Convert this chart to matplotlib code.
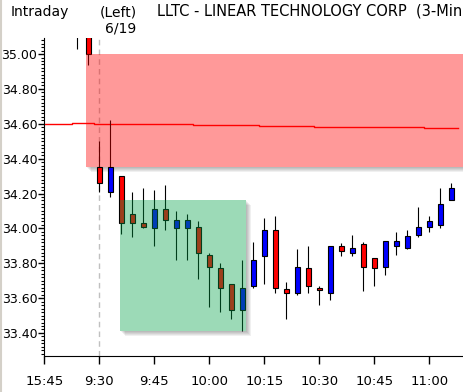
import numpy as np
import matplotlib
matplotlib.use("Agg")
import matplotlib.pyplot as plt
from matplotlib.patches import Rectangle
from matplotlib.lines import Line2D
import matplotlib.transforms as mtransforms

# bar index 0 = 9:30 of 6/19, negative = previous session
bar_idx = list(range(-2, 33))
opens = [35.16, 35.14, 34.35, 34.21, 34.30, 34.08, 34.03, 34.00, 34.11, 34.00, 34.00,
         34.01, 33.85, 33.77, 33.68, 33.53, 33.67, 33.84, 33.99, 33.65, 33.63, 33.77,
         33.66, 33.63, 33.90, 33.86, 33.91, 33.83, 33.78, 33.90, 33.89, 33.96, 34.01,
         34.02, 34.165]
highs = [35.20, 35.18, 34.50, 34.62, 34.30, 34.21, 34.23, 34.22, 34.25, 34.10, 34.08,
         34.04, 33.86, 33.80, 33.68, 33.82, 33.92, 34.06, 34.07, 33.69, 33.88, 33.90,
         33.67, 33.90, 33.915, 33.96, 33.92, 33.83, 33.93, 33.98, 33.99, 34.12, 34.07,
         34.23, 34.26]
lows = [35.03, 34.94, 34.21, 34.18, 33.97, 33.95, 34.00, 33.90, 33.99, 33.82, 33.82,
        33.71, 33.55, 33.52, 33.48, 33.41, 33.66, 33.68, 33.63, 33.48, 33.62, 33.63,
        33.56, 33.59, 33.84, 33.84, 33.64, 33.67, 33.73, 33.85, 33.88, 33.95, 33.98,
        34.00, 34.16]
closes = [35.14, 35.00, 34.26, 34.35, 34.03, 34.03, 34.01, 34.11, 34.05, 34.05, 34.05,
          33.86, 33.78, 33.66, 33.53, 33.66, 33.82, 33.99, 33.66, 33.63, 33.78, 33.67,
          33.645, 33.90, 33.87, 33.885, 33.78, 33.77, 33.93, 33.93, 33.955, 34.01, 34.04,
          34.14, 34.23]

# moving average line (step per bar), from 15:45 bar
ma_idx = list(range(-5, 33))
ma_vals = [34.597] * 3 + [34.603] * 2 + [34.597] * 9 + [34.591] * 6 + \
          [34.585] * 5 + [34.580] * 10 + [34.574] * 3

tick_idx = [-5, 0, 5, 10, 15, 20, 25, 30]
tick_lab = ["15:45", "9:30", "9:45", "10:00", "10:15", "10:30", "10:45", "11:00"]

# zones: (x0, x1, low, high)
red_zone = (-1.21, 34.0, 34.354, 35.00)
green_zone = (1.88, 13.31, 33.413, 34.163)

plt.rcParams["font.family"] = ["DejaVu Sans"]

fig = plt.figure(figsize=(4.64, 3.92), dpi=100)
ax = fig.add_axes([44.3 / 464, 36 / 392, (464 - 44.3) / 464, 318 / 392])
ax.set_xlim(-5, 33.15)
ax.set_ylim(33.268, 35.092)


def zone(x0, x1, y0, y1, color, alpha):
    # soft shadow down-right
    for k in range(1, 6):
        tr = mtransforms.offset_copy(ax.transData, fig=fig, x=k, y=-k, units="dots")
        ax.add_patch(Rectangle((x0, y0), x1 - x0, y1 - y0, transform=tr,
                               facecolor="black", edgecolor="none", alpha=0.06, zorder=1))
    ax.add_patch(Rectangle((x0, y0), x1 - x0, y1 - y0, facecolor="white",
                           edgecolor="none", zorder=1.5))
    ax.add_patch(Rectangle((x0, y0), x1 - x0, y1 - y0, facecolor=color,
                           edgecolor="none", alpha=alpha, zorder=5))


zone(red_zone[0], red_zone[1], red_zone[2], red_zone[3], "#ff0000", 0.4)
zone(green_zone[0], green_zone[1], green_zone[2], green_zone[3], "#00a046", 0.39)

# day separator
ax.axvline(0, color="#c0c0c0", linestyle=(0, (4, 3)), linewidth=1, zorder=2)

# moving average
mx = np.array(ma_idx, dtype=float)
mx[-1] += 0.6
ax.step(mx, ma_vals, where="mid", color="red", linewidth=1, zorder=2.5)

# candles
o = np.array(opens)
c = np.array(closes)
cols = np.where(c >= o, "#0000ff", "#ff0000")
ax.vlines(bar_idx, lows, highs, color="black", linewidth=0.8, zorder=3)
ax.bar(bar_idx, np.abs(c - o), bottom=np.minimum(o, c), width=0.42, color=cols,
       edgecolor="black", linewidth=0.8, zorder=3.5)

# axes styling
for s in ["top", "right"]:
    ax.spines[s].set_visible(False)
ax.set_yticks(np.arange(33.4, 35.01, 0.2))
ax.set_yticks(np.arange(33.28, 35.09, 0.02), minor=True)
ax.yaxis.set_major_formatter(matplotlib.ticker.FormatStrFormatter("%.2f"))
ax.tick_params(axis="y", which="major", length=4, width=1, pad=1, labelsize=9)
ax.tick_params(axis="y", which="minor", length=2, width=0.8)
ax.set_xticks(tick_idx)
ax.set_xticklabels(tick_lab)
ax.tick_params(axis="x", length=6, width=1, pad=8, labelsize=9.5)

# header
fig.text(11 / 464, 1 - 16 / 392, "Intraday", fontsize=10, va="baseline")
fig.text(100 / 464, 1 - 16 / 392, "(Left)", fontsize=10, va="baseline")
fig.text(105 / 464, 1 - 33 / 392, "6/19", fontsize=10, va="baseline")
fig.text(157 / 464, 1 - 16 / 392, "LLTC - LINEAR TECHNOLOGY CORP  (3-Minute)",
         fontsize=10.5, va="baseline")

fig.add_artist(Line2D([0.5 / 464, 0.5 / 464], [0, 1], color="#d4d0c8", linewidth=1.5))

fig.savefig("out.png", dpi=100)
